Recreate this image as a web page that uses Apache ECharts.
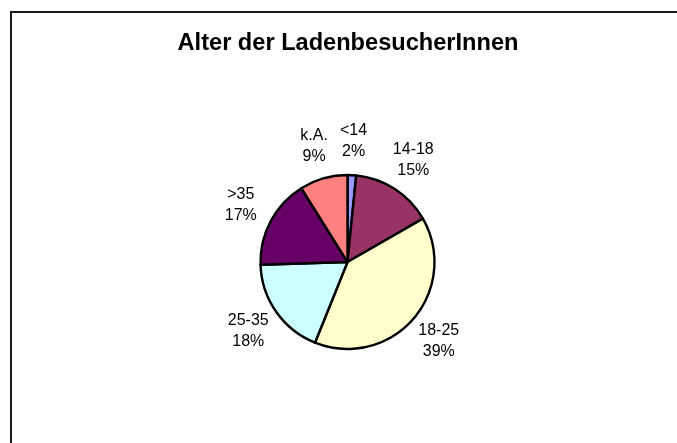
<!DOCTYPE html>
<html>
<head>
<meta charset="utf-8">
<title>Alter der LadenbesucherInnen</title>
<script src="https://cdn.jsdelivr.net/npm/echarts@6/dist/echarts.min.js"></script>
<style>
  html, body { margin: 0; padding: 0; background: #fff; }
  #chart { width: 677px; height: 443px; }
</style>
</head>
<body>
<div id="chart"></div>
<script>
// Altersgruppen (im Uhrzeigersinn ab 12 Uhr)
var ageGroups = ['<14', '14-18', '18-25', '25-35', '>35', 'k.A.'];
var shares = [1.6, 15.1, 39.4, 18.4, 16.6, 8.9];
var sliceColors = ['#9999FF', '#993366', '#FFFFCC', '#CCFFFF', '#660066', '#FF8080'];

var pieData = [];
for (var i = 0; i < ageGroups.length; i++) {
    pieData.push({
        name: ageGroups[i],
        value: shares[i],
        itemStyle: { color: sliceColors[i] }
    });
}

var myChart = echarts.init(document.getElementById('chart'));
myChart.setOption({
    backgroundColor: '#fff',
    animation: false,
    title: {
        text: 'Alter der LadenbesucherInnen',
        left: 348,
        top: 31,
        padding: 0,
        textAlign: 'center',
        textStyle: {
            fontFamily: 'Liberation Sans, Arial, sans-serif',
            fontSize: 23.6,
            fontWeight: 'bold',
            color: '#000'
        }
    },
    // Rahmen des Diagrammbereichs
    graphic: [{
        type: 'rect',
        shape: { x: 11, y: 12, width: 800, height: 600 },
        style: { fill: 'none', stroke: '#1a1a1a', lineWidth: 2 },
        silent: true
    }],
    series: [{
        type: 'pie',
        center: [347.5, 262],
        radius: 87,
        startAngle: 90,
        clockwise: true,
        avoidLabelOverlap: false,
        itemStyle: {
            borderColor: '#000',
            borderWidth: 2.4
        },
        label: {
            show: true,
            position: 'outside',
            distanceToLabelLine: 0,
            fontFamily: 'Liberation Sans, Arial, sans-serif',
            fontSize: 16,
            lineHeight: 21,
            color: '#000',
            formatter: function (p) {
                return p.name + '\n' + Math.round(p.percent) + '%';
            }
        },
        labelLine: { show: false, length: 34, length2: 0 },
        // Beschriftung zentriert auf den Ankerpunkt setzen (wie Excel)
        labelLayout: function (params) {
            var r = params.labelRect;
            var ax = params.align === 'right' ? r.x + r.width : r.x;
            return {
                x: ax,
                y: r.y + r.height / 2,
                align: 'center',
                verticalAlign: 'middle'
            };
        },
        emphasis: { disabled: true },
        data: pieData
    }]
});
window.addEventListener('resize', myChart.resize);
</script>
</body>
</html>
